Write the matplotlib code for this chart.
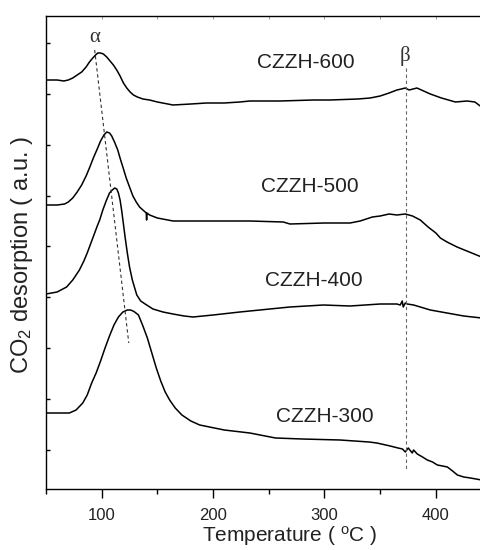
import matplotlib
matplotlib.use('Agg')
import matplotlib.pyplot as plt
from matplotlib.ticker import MultipleLocator, FixedLocator

plt.rcParams['font.family'] = ['Liberation Sans', 'DejaVu Sans']
plt.rcParams['mathtext.default'] = 'regular'

# temperatures (C) and CO2 signal (a.u.)
t600 = [50, 60, 66, 70, 74, 78, 82, 86, 89, 92, 94.5, 96.5, 99, 101.5, 104.5, 107.5,
        110.5, 113.5, 116.5, 119.5, 122.5, 125.5, 128.5, 132, 137, 143, 150, 164,
        180, 194, 210, 224, 233, 260, 290, 305, 330, 341, 350, 358, 365, 369,
        372.5, 376, 383, 389, 395, 405, 417.5, 428, 435, 441]
s600 = [409, 409, 408, 409, 411, 414, 417, 422, 427, 431, 434, 436, 436, 435, 432, 428,
        424, 419, 413, 406, 401, 397, 394, 392, 390, 389, 387, 384,
        385, 386, 386, 387, 388, 388, 389, 389, 390, 391, 393, 396, 399, 400,
        401, 399, 401, 398, 395, 391, 387, 388, 387, 382]

t500 = [50, 60, 66.7, 70, 74, 78, 82, 86, 89, 92.5, 96, 99, 102, 104.5, 107, 109,
        111.5, 114.4, 117, 119, 122, 125, 128, 131, 134, 138, 140, 140.3, 140.6,
        143, 150, 164, 188, 233, 263, 269, 300, 323, 332, 343, 350, 358,
        365, 372.5, 379, 386, 393, 400, 404, 410, 419, 430, 441]
s500 = [284, 284, 285, 287, 291, 297, 304, 313, 321, 331, 340, 348, 354, 357, 356, 353,
        347, 339, 329, 322, 311, 302, 293, 287, 282, 278, 276, 269, 276,
        274, 271, 268, 268, 268, 267, 265, 266, 266, 268, 272, 273, 275,
        274, 275, 273, 269, 262, 256, 251, 247, 242, 237, 232]

t400 = [50, 60, 68.5, 74, 80, 84, 87, 90, 93.7, 96, 98.2, 101, 104, 107, 109.5, 111.7,
        113.5, 115, 116.5, 118, 119.5, 121, 123, 125, 127.5, 131.5, 135, 139, 146,
        155, 164, 174, 182, 200, 224, 269, 299, 323, 350, 365, 368, 369.8, 370.7,
        372.5, 374.3, 380, 395, 410, 425, 441]
s400 = [195, 197, 202, 209, 219, 228, 236, 245, 256, 263, 269, 279, 288, 296, 299, 301,
        300, 296, 289, 278, 265, 252, 236, 222, 209, 194, 188, 185, 180,
        177, 175, 173, 172, 174, 177, 182, 184, 183, 185, 185, 184, 188, 182,
        186, 185, 184, 179, 176, 173, 171]

t300 = [50, 60, 71, 77, 83, 87, 91, 95, 99, 103, 107, 111, 115, 119, 123, 126, 129,
        133, 137, 141, 145, 149, 153, 157, 161, 166, 172, 180, 188, 210, 233, 256,
        280, 314, 340, 347, 359, 366, 370, 372.5, 375.2, 378.8, 380, 383.3, 388,
        392.3, 397, 401.3, 406, 410.3, 415, 419.3, 425, 431, 436, 441]
s300 = [76, 76, 76, 79, 86, 94, 106, 116, 128, 141, 153, 164, 172, 177, 179, 179, 177.5,
        174, 163, 151, 136, 121, 108, 97, 89, 81, 74, 68, 64, 59, 56, 51,
        50, 49, 47, 46, 43, 41, 40, 37, 41, 36, 39, 35, 32,
        29, 27, 24, 23, 22, 18, 14, 12, 11, 10, 9]

labels = ['CZZH-600', 'CZZH-500', 'CZZH-400', 'CZZH-300']
label_pos = [(283.5, 426), (287, 302), (290.6, 209), (300.5, 72)]

alpha_line_t = [93.7, 124.3]
alpha_line_s = [439, 146]
beta_t = 373.4
beta_s = [421, 18]

fig = plt.figure(figsize=(4.81, 5.50), dpi=100)
ax = fig.add_axes([46 / 481, 61 / 550, 435 / 481, 473 / 550])

for t, s in [(t600, s600), (t500, s500), (t400, s400), (t300, s300)]:
    ax.plot(t, s, color='black', lw=1.1)

ax.plot(alpha_line_t, alpha_line_s, color='#333333', lw=0.8, ls=(0, (3, 2.5)))
ax.plot([beta_t, beta_t], beta_s, color='#666666', lw=0.8, ls=(0, (3, 2.5)))

for lab, (x, y) in zip(labels, label_pos):
    ax.text(x, y, lab, fontsize=15, color='#222222', ha='center', va='center')

ax.text(93.7, 451, 'α', fontsize=15, color='#333333', ha='center', va='center',
        family=['Liberation Serif', 'DejaVu Serif'])
ax.text(372.5, 433, 'β', fontsize=15, color='#333333', ha='center', va='center',
        family=['Liberation Serif', 'DejaVu Serif'])

ax.set_xlim(50, 440.5)
ax.set_ylim(0, 473)
ax.xaxis.set_major_locator(MultipleLocator(100))
ax.xaxis.set_minor_locator(MultipleLocator(50))
ax.yaxis.set_major_locator(FixedLocator([39 + 50.9 * k for k in range(9)]))
ax.set_yticklabels([])

ax.spines['right'].set_visible(False)
for sp in ['left', 'bottom', 'top']:
    ax.spines[sp].set_linewidth(1.0)

ax.tick_params(axis='x', which='major', direction='out', length=6.5, width=1,
               labelsize=12, pad=7, top=False, labelcolor='#222222')
ax.tick_params(axis='x', which='minor', direction='out', length=3.5, width=1, top=False)
ax.tick_params(axis='y', which='major', direction='in', length=3, width=1, right=False)

# faint inward ticks on the top edge
top = ax.secondary_xaxis('top')
top.xaxis.set_major_locator(MultipleLocator(100))
top.xaxis.set_minor_locator(MultipleLocator(50))
top.tick_params(which='both', direction='in', length=2, width=0.6, color='#888888',
                labeltop=False)
top.spines['top'].set_visible(False)

ax.set_xlabel('Temperature ( $^{o}$C )', fontsize=15, color='#222222', va='center')
ax.xaxis.set_label_coords((290 - 46) / 435, -(536 - 489) / 473)
ax.set_ylabel('CO$_2$ desorption ( a.u. )', fontsize=17, color='#222222', va='center')
ax.yaxis.set_label_coords(-(46 - 22) / 435, (489 - 255) / 473)

fig.savefig('out.png', dpi=100)
